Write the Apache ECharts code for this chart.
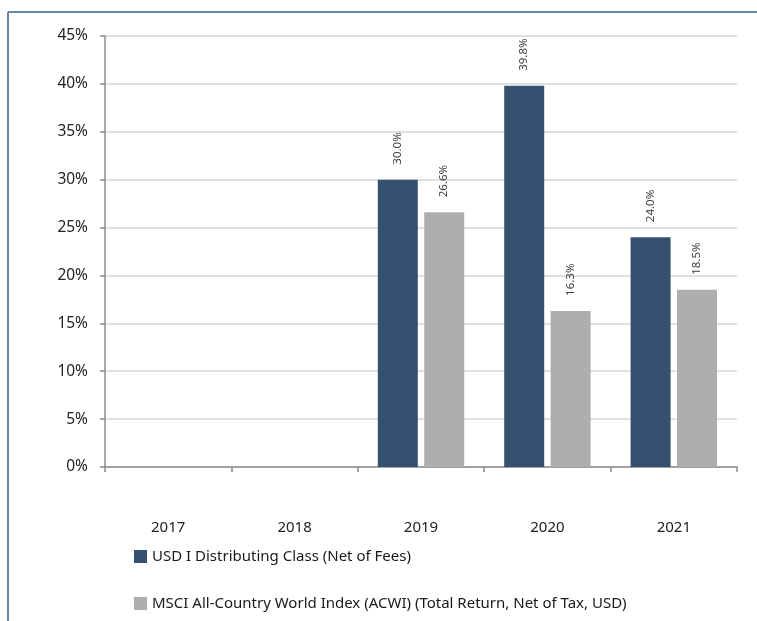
<!DOCTYPE html>
<html>
<head>
<meta charset="utf-8">
<script src="https://cdn.jsdelivr.net/npm/echarts@6/dist/echarts.min.js"></script>
<style>
html,body{margin:0;padding:0;background:#fff;}
#chart{width:757px;height:621px;}
</style>
</head>
<body>
<div id="chart"></div>
<script>
var categories = ['2017', '2018', '2019', '2020', '2021'];
var fundName = 'USD I Distributing Class (Net of Fees)';
var indexName = 'MSCI All-Country World Index (ACWI) (Total Return, Net of Tax, USD)';
var fundValues = [null, null, 30.0, 39.8, 24.0];
var indexValues = [null, null, 26.6, 16.3, 18.5];
var yTicks = [0, 5, 10, 15, 20, 25, 30, 35, 40, 45];

var FONT = 'Noto Sans';
var chart = echarts.init(document.getElementById('chart'), null, {renderer: 'canvas'});

function barLabel() {
  return {
    show: true,
    position: 'top',
    rotate: 90,
    align: 'left',
    verticalAlign: 'middle',
    distance: 15,
    fontFamily: FONT,
    fontSize: 11.5,
    color: '#404040',
    formatter: function (p) { return p.value.toFixed(1) + '%'; }
  };
}

chart.setOption({
  animation: false,
  backgroundColor: '#ffffff',
  textStyle: {fontFamily: FONT},
  graphic: [
    {type: 'line', shape: {x1: 8, y1: 12, x2: 757, y2: 12}, style: {stroke: '#6687ab', lineWidth: 2}},
    {type: 'line', shape: {x1: 8, y1: 12, x2: 8, y2: 621}, style: {stroke: '#6687ab', lineWidth: 2}}
  ],
  grid: {left: 105, right: 20, top: 36, bottom: 154, containLabel: false},
  legend: {
    orient: 'vertical',
    left: 129,
    top: 544,
    itemWidth: 13,
    itemHeight: 13,
    itemGap: 32,
    icon: 'rect',
    textStyle: {fontFamily: FONT, fontSize: 15, color: '#1a1a1a'},
    data: [fundName, indexName]
  },
  xAxis: {
    type: 'category',
    data: categories,
    axisLine: {lineStyle: {color: '#8c8c8c', width: 1.5}},
    axisTick: {show: true, length: 5, alignWithLabel: false, lineStyle: {color: '#8c8c8c', width: 1.5}},
    axisLabel: {margin: 53, fontFamily: FONT, fontSize: 15, color: '#222222'},
    splitLine: {show: false}
  },
  yAxis: {
    type: 'value',
    min: 0,
    max: 45,
    interval: 5,
    axisLine: {show: true, lineStyle: {color: '#8c8c8c', width: 1.5}},
    axisTick: {show: true, length: 5, lineStyle: {color: '#8c8c8c', width: 1.5}},
    axisLabel: {margin: 17, fontFamily: FONT, fontSize: 15.5, color: '#222222',
      formatter: function (v) { return yTicks.indexOf(v) >= 0 ? v + '%' : ''; }},
    splitLine: {show: true, lineStyle: {color: '#d6d6d6', width: 1.5}}
  },
  series: [
    {
      name: fundName,
      type: 'bar',
      data: fundValues,
      barWidth: 40,
      barGap: '16%',
      itemStyle: {color: '#36506f'},
      label: barLabel()
    },
    {
      name: indexName,
      type: 'bar',
      data: indexValues,
      barWidth: 40,
      barGap: '16%',
      itemStyle: {color: '#adaeb0'},
      label: barLabel()
    }
  ]
});
</script>
</body>
</html>
